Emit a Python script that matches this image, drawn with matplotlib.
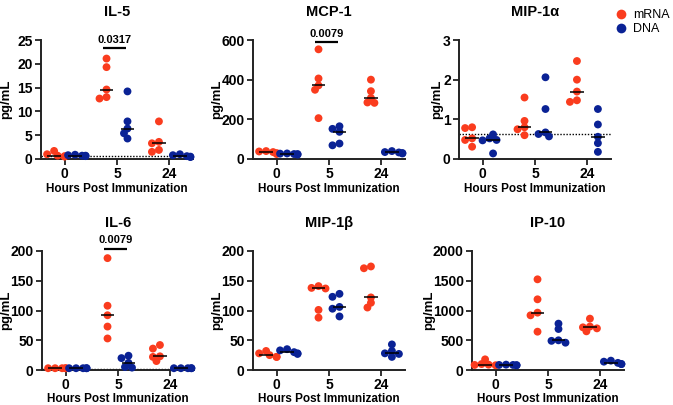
import numpy as np
import matplotlib
matplotlib.use("Agg")
import matplotlib.pyplot as plt
from matplotlib.lines import Line2D

plt.rcParams['font.family'] = ['Liberation Sans', 'DejaVu Sans']

# ---------------- data ----------------
timepoints = ["0", "5", "24"]
series_names = ["mRNA", "DNA"]
colors = {"mRNA": "#FA3C1E", "DNA": "#0A2295"}

titles = ["IL-5", "MCP-1", "MIP-1\u03b1", "IL-6", "MIP-1\u03b2", "IP-10"]

il5_mrna = [[1.7, 0.6, 0.5, 0.7, 1.0], [21.1, 19.3, 14.6, 12.7, 13.0], [7.9, 3.3, 3.6, 1.5, 1.9]]
il5_dna = [[0.7, 0.9, 0.8, 0.6, 0.7], [14.2, 7.9, 6.4, 4.3, 5.4], [1.0, 0.8, 0.5, 0.4, 0.6]]

mcp1_mrna = [[35, 40, 30, 25, 38], [553, 406, 371, 349, 206], [400, 342, 308, 285, 283]]
mcp1_dna = [[25, 28, 22, 27, 25], [165, 152, 137, 78, 69], [40, 35, 30, 28, 33]]

mip1a_mrna = [[0.80, 0.78, 0.52, 0.48, 0.31], [1.55, 0.96, 0.80, 0.75, 0.60], [2.47, 2.00, 1.70, 1.48, 1.44]]
mip1a_dna = [[0.62, 0.52, 0.48, 0.47, 0.14], [2.06, 1.26, 0.67, 0.63, 0.57], [1.26, 0.87, 0.56, 0.40, 0.18]]

il6_mrna = [[3, 3, 3, 3, 3], [188, 108, 92, 73, 53], [42, 36, 23, 22, 15]]
il6_dna = [[3, 3, 3, 3, 3], [24, 20, 12, 5, 4], [3, 3, 3, 3, 3]]

mip1b_mrna = [[32, 28, 25, 22, 22], [141, 138, 137, 101, 88], [174, 171, 122, 113, 105]]
mip1b_dna = [[35, 33, 30, 28, 27], [128, 123, 106, 103, 90], [43, 32, 28, 27, 22]]

ip10_mrna = [[179, 100, 90, 80, 85], [1524, 1188, 964, 919, 644], [863, 730, 717, 700, 650]]
ip10_dna = [[85, 90, 80, 85, 80], [779, 689, 499, 490, 459], [157, 140, 120, 100, 100]]

mrna_data = [il5_mrna, mcp1_mrna, mip1a_mrna, il6_mrna, mip1b_mrna, ip10_mrna]
dna_data = [il5_dna, mcp1_dna, mip1a_dna, il6_dna, mip1b_dna, ip10_dna]

y_max = [25, 600, 3, 200, 200, 2000]
y_step = [5, 200, 1, 50, 50, 500]
lod = [0.65, None, 0.62, 2.0, None, None]
sig_text = ["0.0317", "0.0079", None, "0.0079", None, None]
sig_level = [23.3, 590, None, 204, None, None]

# ---------------- layout ----------------
W, H = 673, 405
fig = plt.figure(figsize=(W / 100, H / 100), dpi=100)

lefts = [41, 253, 459, 42, 253, 472]
tops = [40, 40, 40, 251, 251, 251]
ax_w, ax_h = 152, 119
ylabel_x = [12, 223, 443, 12, 223, 435]

offsets = {"mRNA": -0.2, "DNA": 0.2}
marker_d = 7.0  # px


def swarm_offsets(ax, vals):
    disp = ax.transData.transform(np.column_stack([np.zeros(len(vals)), vals]))[:, 1]
    order = np.argsort(-np.asarray(vals))
    placed = []
    xo = np.zeros(len(vals))
    cands = [0, -1, 1, -2, 2, -3, 3]
    for i in order:
        x = 0.0
        for c in cands:
            x = c * marker_d * 0.5
            ok = True
            for (px, py) in placed:
                if (px - x) ** 2 + (py - disp[i]) ** 2 < (marker_d * 0.75) ** 2:
                    ok = False
                    break
            if ok:
                break
        placed.append((x, disp[i]))
        xo[i] = x
    return xo


for k in range(6):
    l, t = lefts[k], tops[k]
    ax = fig.add_axes([l / W, 1 - (t + ax_h) / H, ax_w / W, ax_h / H])
    ax.set_xlim(-0.45, 2.45)
    ax.set_ylim(0, y_max[k])
    px_per_cat = ax_w / 2.9
    for s, data in (("mRNA", mrna_data[k]), ("DNA", dna_data[k])):
        for g, vals in enumerate(data):
            xo = swarm_offsets(ax, vals) / px_per_cat
            xs = g + offsets[s] + xo
            ax.scatter(xs, vals, s=32, color=colors[s], edgecolors='none',
                       zorder=3, clip_on=False)
            med = np.median(vals)
            ax.plot([g + offsets[s] - 0.13, g + offsets[s] + 0.13], [med, med],
                    color='black', lw=1.1, zorder=4, solid_capstyle='butt')
    if lod[k] is not None:
        ax.axhline(lod[k], color='black', lw=1.0, ls=(0, (1, 1.2)), zorder=2)
    if sig_text[k] is not None:
        ax.plot([1 + offsets["mRNA"] - 0.07, 1 + offsets["DNA"] - 0.03],
                [sig_level[k], sig_level[k]], color='black', lw=1.6,
                clip_on=False, solid_capstyle='butt')
        ax.annotate(sig_text[k], xy=(1 - 0.05, sig_level[k]),
                    xytext=(0, 2.5), textcoords='offset points',
                    ha='center', va='bottom', fontsize=8, fontweight='bold',
                    annotation_clip=False)

    ax.set_xticks([0, 1, 2])
    ax.set_xticklabels(timepoints)
    ax.set_yticks(np.arange(0, y_max[k] + y_step[k] / 2, y_step[k]))
    for sp in ("top", "right"):
        ax.spines[sp].set_visible(False)
    for sp in ("left", "bottom"):
        ax.spines[sp].set_linewidth(1.4)
        ax.spines[sp].set_color('#222222')
    ax.tick_params(axis='both', length=4, width=1.3, color='#222222',
                   labelsize=10, pad=2)
    for lab in ax.get_xticklabels() + ax.get_yticklabels():
        lab.set_fontweight('bold')
    ax.set_title(titles[k], fontsize=10.5, fontweight='bold', pad=17)
    ax.set_xlabel("Hours Post Immunization", fontsize=8.5, fontweight='bold',
                  labelpad=1.5 if k < 3 else 0.5)
    ax.set_ylabel("pg/mL", fontsize=9.5, fontweight='bold')
    ax.yaxis.set_label_coords((ylabel_x[k] - l) / ax_w, 0.5)

handles = [Line2D([], [], marker='o', ls='none', markersize=7,
                  markerfacecolor=colors[s], markeredgecolor='none', label=s)
           for s in series_names]
fig.legend(handles=handles, loc='upper left',
           bbox_to_anchor=(613 / W, 1 - 9 / H), frameon=False,
           handletextpad=0.3, labelspacing=0.2, fontsize=9,
           borderaxespad=0, borderpad=0, handlelength=1.3)

fig.savefig("out.png", dpi=100)
